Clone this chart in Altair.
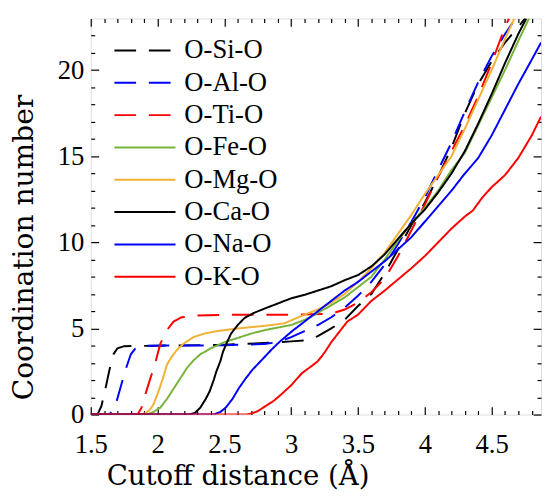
import altair as alt
import pandas as pd

series = ["O-Si-O", "O-Al-O", "O-Ti-O", "O-Fe-O", "O-Mg-O", "O-Ca-O", "O-Na-O", "O-K-O"]
colors = ["#000000", "#0000ff", "#ff0000", "#77b33a", "#f2b135", "#000000", "#0000ff", "#ff0000"]
dashes = [[22, 13], [22, 13], [22, 13], [1, 0], [1, 0], [1, 0], [1, 0], [1, 0]]

si_x = [1.5, 1.55, 1.58, 1.61, 1.64, 1.67, 1.70, 1.75, 2.0, 2.5, 2.8, 3.0, 3.1, 3.2, 3.3, 3.4, 3.5, 3.6,
        3.7, 3.8, 3.9, 4.0, 4.1, 4.2, 4.3, 4.4, 4.5, 4.6, 4.7, 4.75]
si_y = [0, 0, 0.5, 1.5, 2.6, 3.5, 3.85, 3.97, 4.0, 4.05, 4.15, 4.25, 4.3, 4.55, 5.0, 5.5, 6.3, 7.0,
        8.2, 9.6, 11.0, 12.3, 13.8, 15.5, 17.5, 19.2, 20.5, 21.6, 22.5, 23.0]

al_x = [1.5, 1.64, 1.68, 1.72, 1.76, 1.80, 1.84, 1.9, 2.5, 2.8, 2.9, 3.0, 3.1, 3.2, 3.3, 3.4, 3.5, 3.6,
        3.7, 3.8, 3.9, 4.0, 4.1, 4.2, 4.3, 4.4, 4.5, 4.6, 4.68]
al_y = [0, 0, 0.4, 1.5, 2.6, 3.5, 3.9, 4.0, 4.02, 4.1, 4.2, 4.5, 4.85, 5.2, 5.65, 6.2, 6.9, 7.7,
        8.7, 9.9, 11.2, 12.6, 14.2, 15.8, 17.6, 19.3, 20.8, 22.1, 23.0]

ti_x = [1.5, 1.85, 1.88, 1.91, 1.95, 1.98, 2.02, 2.07, 2.12, 2.18, 2.3, 2.6, 3.0, 3.3, 3.4, 3.5, 3.6,
        3.7, 3.8, 3.9, 4.0, 4.1, 4.2, 4.3, 4.4, 4.5, 4.6, 4.63]
ti_y = [0, 0, 0.4, 1.2, 2.2, 2.9, 4.1, 4.9, 5.4, 5.65, 5.75, 5.8, 5.8, 5.85, 6.1, 6.5, 7.1,
        7.9, 9.2, 10.7, 12.2, 13.8, 15.3, 16.8, 18.5, 20.4, 22.5, 23.0]

fe_x = [1.5, 1.92, 1.97, 2.02, 2.07, 2.12, 2.17, 2.22, 2.27, 2.32, 2.4, 2.5, 2.6, 2.7, 2.8, 2.9, 3.0,
        3.1, 3.2, 3.3, 3.4, 3.5, 3.6, 3.7, 3.8, 3.9, 4.0, 4.1, 4.2, 4.3, 4.4, 4.5, 4.6, 4.7, 4.78]
fe_y = [0, 0, 0.15, 0.4, 0.9, 1.5, 2.1, 2.7, 3.15, 3.5, 3.85, 4.2, 4.45, 4.7, 4.9, 5.05, 5.2,
        5.5, 5.9, 6.35, 6.8, 7.4, 8.0, 9.0, 10.1, 11.1, 12.0, 13.0, 14.2, 15.2, 16.8, 18.4, 20.0, 21.7, 23.0]

mg_x = [1.5, 1.86, 1.9, 1.94, 1.97, 2.0, 2.04, 2.07, 2.11, 2.15, 2.2, 2.27, 2.35, 2.45, 2.6, 2.8, 2.95,
        3.1, 3.2, 3.3, 3.4, 3.5, 3.6, 3.7, 3.8, 3.9, 4.0, 4.1, 4.2, 4.3, 4.4, 4.5, 4.6, 4.67]
mg_y = [0, 0, 0.05, 0.25, 0.6, 1.2, 2.1, 2.9, 3.4, 3.8, 4.15, 4.5, 4.7, 4.85, 5.0, 5.15, 5.3,
        5.8, 6.1, 6.5, 7.0, 7.7, 8.5, 9.4, 10.5, 11.6, 12.8, 13.9, 15.0, 16.6, 18.3, 20.0, 21.8, 23.0]

ca_x = [1.5, 2.24, 2.28, 2.32, 2.36, 2.39, 2.42, 2.44, 2.47, 2.49, 2.52, 2.55, 2.6, 2.65, 2.72, 2.8,
        2.9, 3.0, 3.1, 3.2, 3.3, 3.4, 3.5, 3.6, 3.7, 3.8, 3.9, 4.0, 4.1, 4.2, 4.3, 4.4, 4.5, 4.6, 4.7, 4.76]
ca_y = [0, 0, 0.1, 0.4, 0.9, 1.35, 2.0, 2.5, 3.1, 3.65, 4.2, 4.7, 5.2, 5.6, 5.9, 6.15,
        6.45, 6.75, 6.95, 7.2, 7.45, 7.8, 8.1, 8.6, 9.3, 10.2, 11.1, 11.9, 12.9, 14.0, 15.3, 16.9, 18.6, 20.4, 22.1, 23.0]

na_x = [1.5, 2.42, 2.47, 2.51, 2.56, 2.61, 2.66, 2.71, 2.79, 2.85, 2.91, 3.0, 3.1, 3.2, 3.3, 3.4, 3.5,
        3.6, 3.7, 3.8, 3.9, 4.0, 4.1, 4.2, 4.3, 4.4, 4.5, 4.6, 4.7, 4.8, 4.87]
na_y = [0, 0, 0.15, 0.4, 0.9, 1.55, 2.1, 2.6, 3.25, 3.75, 4.2, 4.8, 5.4, 6.0, 6.6, 7.2, 7.7,
        8.3, 8.9, 9.6, 10.3, 11.2, 12.1, 13.0, 14.0, 14.9, 16.2, 17.7, 19.2, 20.6, 21.6]

k_x = [1.5, 2.66, 2.7, 2.75, 2.81, 2.87, 2.93, 3.0, 3.08, 3.15, 3.2, 3.25, 3.3, 3.36, 3.42, 3.5, 3.6,
       3.7, 3.8, 3.9, 4.0, 4.1, 4.2, 4.3, 4.36, 4.43, 4.5, 4.6, 4.7, 4.8, 4.87]
k_y = [0, 0, 0.05, 0.2, 0.5, 0.8, 1.2, 1.7, 2.4, 2.8, 3.1, 3.6, 4.2, 4.8, 5.4, 5.8, 6.6,
       7.2, 7.85, 8.5, 9.2, 10.0, 10.8, 11.5, 11.85, 12.6, 13.2, 13.9, 14.9, 16.2, 17.3]

x_major = [1.5, 2.0, 2.5, 3.0, 3.5, 4.0, 4.5]
x_minor = [round(1.5 + 0.1 * i, 1) for i in range(1, 34) if i % 5 != 0]
y_major = [0, 5, 10, 15, 20]
y_minor = [i for i in range(1, 23) if i % 5 != 0]

xs = [si_x, al_x, ti_x, fe_x, mg_x, ca_x, na_x, k_x]
ys = [si_y, al_y, ti_y, fe_y, mg_y, ca_y, na_y, k_y]
rows = []
for s, (xx, yy) in enumerate(zip(xs, ys)):
    for i, (a, b) in enumerate(zip(xx, yy)):
        rows.append({"series": series[s], "order": s, "idx": i, "x": a, "y": b})
df = pd.DataFrame(rows)

xscale = alt.Scale(domain=[1.5, 4.87], nice=False, zero=False)
yscale = alt.Scale(domain=[0, 23], nice=False, zero=False)
SERIF = "Liberation Serif"
TITLE_FONT = "DejaVu Serif"

# custom horizontal-line symbol, 4 radii long, starting at the entry's left edge
leg = alt.Legend(title=None, orient="none", legendX=23, legendY=16, symbolType="M-1,0H3",
                 symbolSize=961, symbolStrokeWidth=2, labelFont=SERIF, labelFontSize=27,
                 labelColor="black", rowPadding=2.8, padding=0, labelOffset=39, labelLimit=300)

main = alt.Chart(df).mark_line(strokeWidth=2, clip=True).encode(
    x=alt.X("x:Q", scale=xscale,
            axis=alt.Axis(orient="bottom", title="Cutoff distance (Å)", values=x_major,
                          format="~g", ticks=False, domain=False, grid=False,
                          labelFont=SERIF, labelFontSize=27, labelColor="black",
                          labelPadding=18, labelFlush=False,
                          titleFont=TITLE_FONT, titleFontSize=28, titleFontWeight="normal",
                          titleColor="black", titleX=149, titleY=71, titleAlign="center",
                          titleBaseline="alphabetic")),
    y=alt.Y("y:Q", scale=yscale,
            axis=alt.Axis(orient="left", title="Coordination number", values=y_major,
                          ticks=False, domain=False, grid=False,
                          labelFont=SERIF, labelFontSize=27, labelColor="black",
                          labelPadding=7, labelFlush=False,
                          titleFont=TITLE_FONT, titleFontSize=28.5, titleFontWeight="normal",
                          titleColor="black", titleX=-68, titleY=232, titleAlign="center",
                          titleBaseline="middle", titleAngle=270)),
    color=alt.Color("series:N", scale=alt.Scale(domain=series, range=colors), legend=leg,
                    sort=series),
    strokeDash=alt.StrokeDash("series:N", scale=alt.Scale(domain=series, range=dashes),
                              legend=leg, sort=series),
    order=alt.Order("idx:Q"),
)


def tick_layer(xorient, yorient, xvals, yvals, size):
    return alt.Chart(df).mark_line(opacity=0, clip=True).encode(
        x=alt.X("x:Q", scale=xscale,
                axis=alt.Axis(orient=xorient, values=xvals, labels=False, domain=False,
                              grid=False, title=None, tickSize=size, offset=-size,
                              tickColor="black", tickWidth=1.2)),
        y=alt.Y("y:Q", scale=yscale,
                axis=alt.Axis(orient=yorient, values=yvals, labels=False, domain=False,
                              grid=False, title=None, tickSize=size, offset=-size,
                              tickColor="black", tickWidth=1.2)),
        detail="series:N",
    )


chart = alt.layer(
    main,
    tick_layer("bottom", "left", x_major, y_major, 8),
    tick_layer("bottom", "left", x_minor, y_minor, 4),
    tick_layer("top", "right", x_major, y_major, 8),
    tick_layer("top", "right", x_minor, y_minor, 4),
).resolve_axis(x="independent", y="independent").properties(
    width=457, height=402,
    autosize=alt.AutoSizeParams(type="none"),
    padding={"left": 84, "top": 7, "right": 2, "bottom": 76},
).configure_view(stroke="black", strokeWidth=1.5).configure(background="white")

chart.save("out.html", embed_options={"renderer": "svg", "actions": False})
